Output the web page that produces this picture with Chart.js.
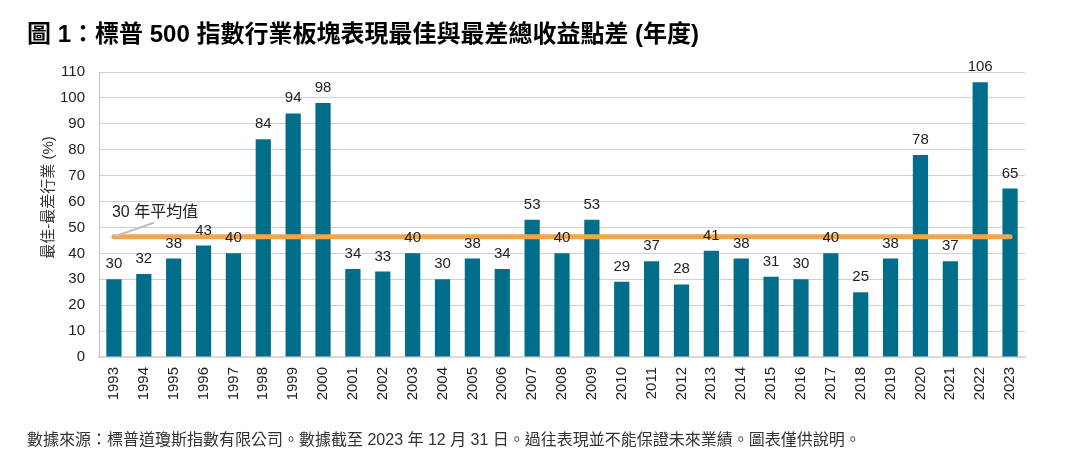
<!DOCTYPE html>
<html>
<head>
<meta charset="utf-8">
<script src="https://cdn.jsdelivr.net/npm/chart.js@4"></script>
<style>
  html, body { margin: 0; padding: 0; background: #fff; }
  #wrap { width: 1070px; height: 469px; position: relative; }
</style>
</head>
<body>
<div id="wrap"><canvas id="chart_spread"></canvas></div>
<script>
// 標普 500 行業板塊 最佳-最差 年度總收益點差
const years = ['1993','1994','1995','1996','1997','1998','1999','2000','2001','2002','2003','2004','2005','2006','2007','2008','2009','2010','2011','2012','2013','2014','2015','2016','2017','2018','2019','2020','2021','2022','2023'];
const spread = [30,32,38,43,40,84,94,98,34,33,40,30,38,34,53,40,53,29,37,28,41,38,31,30,40,25,38,78,37,106,65];
const avg30 = 46.4;
const yTicks = [0,10,20,30,40,50,60,70,80,90,100,110];

const FONT = "'Liberation Sans', 'Noto Sans CJK TC', Arial, sans-serif";
const cc = { bar: '#006E8A', avg: '#F0A64A', text: '#222', grid: '#d0d0d0', lead: '#bfbfbf' };

// 數值標籤、Y 軸標題、「30 年平均值」註解
const labelsPlugin = {
    id: 'valueLabels',
    afterDatasetsDraw(chart) {
        const ctx = chart.ctx;
        const meta = chart.getDatasetMeta(0);
        ctx.save();
        ctx.font = '15px ' + FONT;
        ctx.fillStyle = cc.text;
        ctx.textAlign = 'center';
        ctx.textBaseline = 'alphabetic';
        meta.data.forEach((bar, i) => ctx.fillText(String(spread[i]), bar.x, bar.y - 11));

        const x0 = chart.scales.x.getPixelForValue(0);
        const y0 = chart.scales.y.getPixelForValue(avg30);
        ctx.strokeStyle = cc.lead;
        ctx.lineWidth = 2;
        ctx.beginPath();
        ctx.moveTo(x0, y0);
        ctx.lineTo(x0 + 40, y0 - 14);
        ctx.stroke();
        ctx.font = '16px ' + FONT;
        ctx.textAlign = 'left';
        ctx.fillText('30 年平均值', x0 - 2, y0 - 20);

        // y 軸標題 (略高於繪圖區中心)
        const ya = chart.chartArea;
        ctx.translate(49, (ya.top + ya.bottom) / 2 - 17);
        ctx.rotate(-Math.PI / 2);
        ctx.font = '15px ' + FONT;
        ctx.fillStyle = '#333';
        ctx.textAlign = 'center';
        ctx.textBaseline = 'middle';
        ctx.fillText('最佳-最差行業 (%)', 0, 0);
        ctx.restore();
    }
};

new Chart(document.getElementById('chart_spread').getContext('2d'), {
    type: 'bar',
    data: { labels: years, datasets: [
        { type: 'bar', label: '最佳-最差', data: spread, backgroundColor: cc.bar, barPercentage: 0.51, categoryPercentage: 1, order: 2 },
        { type: 'line', label: '30 年平均值', data: [{ x: years[0], y: avg30 }, { x: years[years.length - 1], y: avg30 }],
          borderColor: cc.avg, borderWidth: 5, borderCapStyle: 'round', pointRadius: 0, order: 1 }
    ] },
    options: {
        responsive: true, maintainAspectRatio: false, animation: false,
        layout: { padding: { left: 27, right: 45, top: 0, bottom: 0 } },
        plugins: {
            legend: { display: false },
            tooltip: { enabled: false },
            title: { display: true, text: '圖 1：標普 500 指數行業板塊表現最佳與最差總收益點差 (年度)', align: 'start',
                     color: '#000', font: { family: FONT, size: 24, weight: 'bold' }, padding: { top: 21, bottom: 22.2 } },
            subtitle: { display: true, position: 'bottom', align: 'start', color: '#333',
                        text: '數據來源：標普道瓊斯指數有限公司。數據截至 2023 年 12 月 31 日。過往表現並不能保證未來業績。圖表僅供說明。',
                        font: { family: FONT, size: 16 }, padding: { top: 19, bottom: 18.8 } }
        },
        scales: {
            x: {
                grid: { display: false, drawTicks: false },
                border: { color: '#d9d9d9', width: 2 },
                ticks: { color: cc.text, font: { family: FONT, size: 15 }, minRotation: 90, maxRotation: 90, padding: 10, autoSkip: false },
                afterFit(s) { s.height = 55; }
            },
            y: {
                min: 0, max: 110,
                afterBuildTicks(s) { s.ticks = yTicks.map(v => ({ value: v })); },
                grid: { color: cc.grid, drawTicks: false },
                border: { color: '#bfbfbf', width: 1 },
                ticks: { color: cc.text, font: { family: FONT, size: 15 }, padding: 14 },
                afterFit(s) { s.width = 72; }
            }
        }
    },
    plugins: [labelsPlugin]
});
</script>
</body>
</html>
